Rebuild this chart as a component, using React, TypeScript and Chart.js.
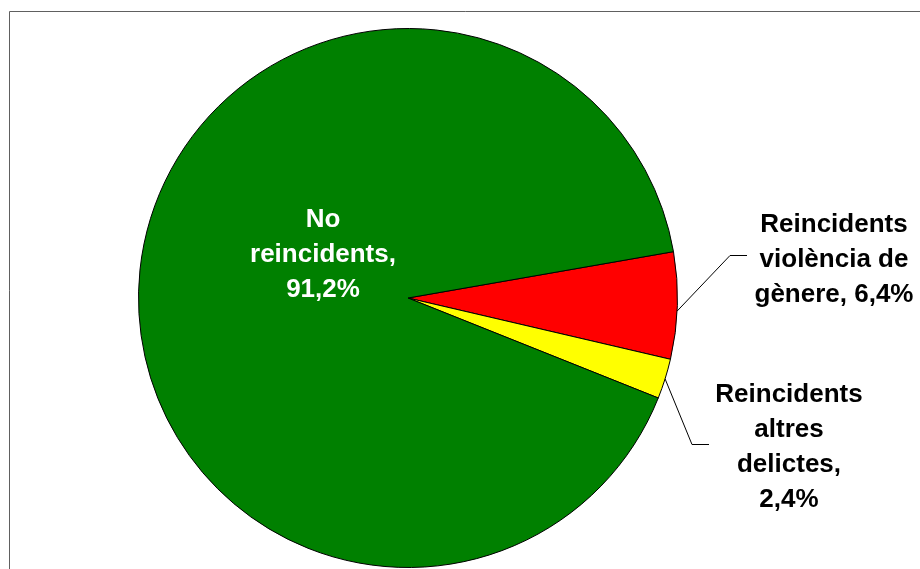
import React, { useEffect, useRef } from "react";
import { Chart, registerables } from "chart.js";

Chart.register(...registerables);

const categories = ["Reincidents violència de gènere", "Reincidents altres delictes", "No reincidents"];
const values = [6.4, 2.4, 91.2];
const colors = ["#FF0000", "#FFFF00", "#008000"];
const labelLines = [
  ["Reincidents", "violència de", "gènere, 6,4%"],
  ["Reincidents", "altres", "delictes,", "2,4%"],
  ["No", "reincidents,", "91,2%"],
];

const labelPlugin = {
  id: "pieLabels",
  beforeDraw(chart: any) {
    const ctx = chart.ctx;
    ctx.save();
    ctx.fillStyle = "#ffffff";
    ctx.fillRect(0, 0, chart.width, chart.height);
    ctx.strokeStyle = "#606060";
    ctx.lineWidth = 1;
    ctx.beginPath();
    ctx.moveTo(9.5, chart.height + 2);
    ctx.lineTo(9.5, 11.5);
    ctx.lineTo(chart.width + 2, 11.5);
    ctx.stroke();
    ctx.restore();
  },
  afterDraw(chart: any) {
    const ctx = chart.ctx;
    const arcs = chart.getDatasetMeta(0).data;
    ctx.save();
    ctx.font = "bold 26px 'Liberation Sans', Arial, sans-serif";
    ctx.textAlign = "center";
    ctx.textBaseline = "alphabetic";
    // leader lines
    ctx.strokeStyle = "#000000";
    ctx.lineWidth = 1;
    const a0 = arcs[0];
    const a1 = arcs[1];
    const mid0 = (a0.startAngle + a0.endAngle) / 2;
    const mid1 = (a1.startAngle + a1.endAngle) / 2;
    const r0 = a0.outerRadius;
    ctx.beginPath();
    ctx.moveTo(a0.x + Math.cos(mid0 + 0.02) * r0, a0.y + Math.sin(mid0 + 0.02) * r0);
    ctx.lineTo(730, 255.5);
    ctx.lineTo(747, 255.5);
    ctx.stroke();
    ctx.beginPath();
    ctx.moveTo(a1.x + Math.cos(mid1) * r0, a1.y + Math.sin(mid1) * r0);
    ctx.lineTo(692, 444.5);
    ctx.lineTo(709, 444.5);
    ctx.stroke();

    const pos = [
      { x: 834, y: 232, color: "#000000" },
      { x: 789, y: 402, color: "#000000" },
      { x: 323, y: 227, color: "#ffffff" },
    ];
    labelLines.forEach((lines, i) => {
      ctx.fillStyle = pos[i].color;
      lines.forEach((t, j) => {
        ctx.fillText(t, pos[i].x, pos[i].y + j * 35);
      });
    });
    ctx.restore();
  },
};

export default function App() {
  const ref = useRef<HTMLCanvasElement>(null);
  useEffect(() => {
    if (!ref.current) return;
    const chart = new Chart(ref.current, {
      type: "pie",
      data: {
        labels: categories,
        datasets: [
          {
            data: values,
            backgroundColor: colors,
            borderColor: "#000000",
            borderWidth: 1,
          },
        ],
      },
      options: {
        responsive: false,
        animation: false,
        rotation: 80.1,
        layout: { padding: { left: 138, right: 242, top: 28, bottom: 1 } },
        plugins: {
          legend: { display: false },
          tooltip: { enabled: false },
        },
      },
      plugins: [labelPlugin],
    });
    return () => chart.destroy();
  }, []);
  return (
    <div style={{ position: "fixed", left: 0, top: 0, width: 920, height: 569 }}>
      <canvas ref={ref} width={920} height={569} style={{ display: "block" }} />
    </div>
  );
}
